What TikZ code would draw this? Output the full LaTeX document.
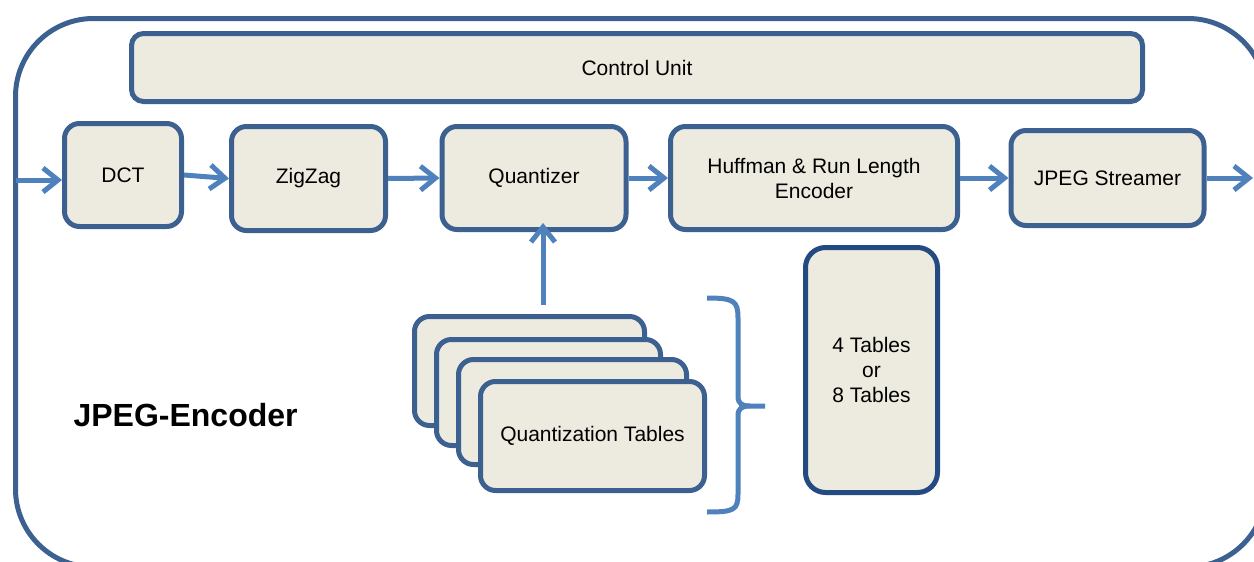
\documentclass[tikz,border=0pt]{standalone}
\usepackage{fontspec}
\setmainfont{Liberation Sans}
\usepackage{xcolor}
\usepackage{tikz}
\usetikzlibrary{shapes, arrows.meta, positioning, calc}

\definecolor{boxline}{HTML}{3C6090}
\definecolor{darkline}{HTML}{234B82}
\definecolor{boxfill}{HTML}{EDEBE0}
\definecolor{flowblue}{HTML}{4F81BD}

\begin{document}
\begin{tikzpicture}[
            x=1pt, y=-1pt,
            block/.style={rectangle, draw=boxline, fill=boxfill, line width=5pt, rounded corners=15pt,
                inner sep=0pt, align=center, font=\fontsize{21}{25}\selectfont},
            flow/.style={draw=flowblue, line width=5pt, -{Straight Barb[length=15pt, width=24pt, line width=5pt]}},
            frame/.style={draw=boxline, line width=5pt, rounded corners=78pt}
        ]
        \clip (0,0) rectangle (1254,562);

        % outer frame
        \draw[frame] (15.5,18.5) rectangle (1266,567);
        \node[anchor=base west, font=\fontsize{32}{38}\selectfont\bfseries] (title) at (70,426) {JPEG-Encoder};

        % control unit and pipeline
        \node[block, rounded corners=12pt, minimum width=1011pt, minimum height=68pt] (ctrl) at (637,67.5) {Control Unit};
        \node[block, minimum width=117pt, minimum height=103pt] (dct) at (123,175) {DCT};
        \node[block, minimum width=154pt, minimum height=104pt] (zigzag) at (308.5,178.5) {ZigZag};
        \node[block, minimum width=184pt, minimum height=103pt] (quant) at (534,178) {Quantizer};
        \node[block, minimum width=287pt, minimum height=103pt] (huff) at (814,178) {Huffman \& Run Length\\Encoder};
        \node[block, minimum width=193pt, minimum height=95pt] (streamer) at (1107.5,178) {JPEG Streamer};

        % quantization tables
        \node[block, minimum width=230pt, minimum height=109pt] (qt1) at (529.5,371) {};
        \node[block, minimum width=224pt, minimum height=106pt] (qt2) at (548.5,392.5) {};
        \node[block, minimum width=228pt, minimum height=105pt] (qt3) at (572.5,412) {};
        \node[block, minimum width=224pt, minimum height=109pt] (qt4) at (592.5,436) {Quantization Tables};

        \node[block, draw=darkline, rounded corners=20pt, minimum width=132pt, minimum height=245pt] (tabcount) at (871.5,370) {4 Tables\\or\\8 Tables};

        % data flow
        \coordinate (in) at (15.5,180);
        \coordinate (out) at (1253,178);
        \draw[flow] (in) -- (in -| dct.west);
        \draw[flow] (dct.east) -- (zigzag.west);
        \draw[flow] (zigzag.east) -- (quant.west);
        \draw[flow] (quant.east) -- (huff.west);
        \draw[flow] (huff.east) -- (streamer.west);
        \draw[flow] (streamer.east) -- (out);
        \draw[flow] ([shift={(13.5,-9)}]qt1.north) -- ([shift={(13.5,-9)}]qt1.north |- quant.south);

        % brace
        \draw[flowblue, line width=5pt] (707,298) .. controls (734,298) and (738,301) .. (738,318) -- (738,396)
            .. controls (738,404) and (742,406) .. (750,406) -- (765,406);
        \draw[flowblue, line width=5pt] (750,406) .. controls (742,406) and (738,408) .. (738,416) -- (738,494)
            .. controls (738,510) and (734,512) .. (707,512);

    \end{tikzpicture}
\end{document}
